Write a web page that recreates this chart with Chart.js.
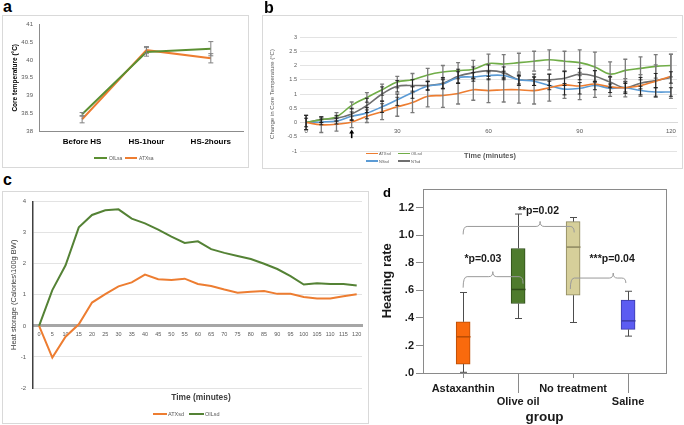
<!DOCTYPE html>
<html><head><meta charset="utf-8">
<script src="https://cdn.jsdelivr.net/npm/chart.js@4.4.1/dist/chart.umd.min.js"></script>
<style>
body{margin:0;width:684px;height:425px;background:#fff;position:relative;overflow:hidden;font-family:"Liberation Sans",Arial,sans-serif;}
.panel{position:absolute;border:1px solid #d9d9d9;box-sizing:border-box;background:#fff}
canvas{position:absolute}
.lbl{position:absolute;font-weight:bold;color:#000;line-height:1}
.t{position:absolute;white-space:nowrap;text-align:center}
.ln{position:absolute;height:2px}
</style></head>
<body>
<div class="panel" style="left:2px;top:15px;width:247px;height:153px"></div>
<div class="panel" style="left:262px;top:15px;width:421px;height:154px"></div>
<div class="panel" style="left:2px;top:191px;width:367px;height:233px"></div>

<canvas id="ca" width="246" height="153" style="left:2px;top:15px"></canvas>
<canvas id="cb" width="420" height="153" style="left:262px;top:15px"></canvas>
<canvas id="cc" width="367" height="233" style="left:2px;top:191px"></canvas>
<canvas id="cd" width="312" height="245" style="left:372px;top:180px"></canvas>

<div class="lbl" style="left:3px;top:-1px;font-size:16px">a</div>
<div class="lbl" style="left:264px;top:0px;font-size:16px">b</div>
<div class="lbl" style="left:3px;top:172px;font-size:16px">c</div>
<div class="lbl" style="left:383px;top:186px;font-size:13px">d</div>

<!-- legend a -->
<div class="ln" style="left:94px;top:157px;width:13px;background:#5b8f32"></div>
<div class="t" style="left:109px;top:155px;font-size:5px;line-height:6px;color:#595959">OILsa</div>
<div class="ln" style="left:125px;top:157px;width:12px;background:#ed7d31"></div>
<div class="t" style="left:139px;top:155px;font-size:5px;line-height:6px;color:#595959">ATXsa</div>

<!-- legend b -->
<div class="ln" style="left:366px;top:152.5px;width:12px;height:1.5px;background:#ed7d31"></div>
<div class="t" style="left:379px;top:151px;font-size:4px;line-height:5px;color:#595959">ATXsd</div>
<div class="ln" style="left:398px;top:152.5px;width:12px;height:1.5px;background:#70ad47"></div>
<div class="t" style="left:411px;top:151px;font-size:4px;line-height:5px;color:#595959">OILsd</div>
<div class="ln" style="left:366px;top:160px;width:12px;height:1.5px;background:#5b9bd5"></div>
<div class="t" style="left:379px;top:158.5px;font-size:4px;line-height:5px;color:#595959">NSsd</div>
<div class="ln" style="left:398px;top:160px;width:12px;height:1.5px;background:#6f6f6f"></div>
<div class="t" style="left:411px;top:158.5px;font-size:4px;line-height:5px;color:#595959">NTsd</div>
<div class="t" style="left:440px;top:151px;width:100px;font-size:7.3px;line-height:9px;font-weight:bold;color:#595959">Time (minutes)</div>

<!-- legend c -->
<div class="ln" style="left:153px;top:413px;width:14px;background:#ed7d31"></div>
<div class="t" style="left:168px;top:411px;font-size:5.5px;line-height:7px;color:#595959">ATXsd</div>
<div class="ln" style="left:189px;top:413px;width:15px;background:#548235"></div>
<div class="t" style="left:205px;top:411px;font-size:5.5px;line-height:7px;color:#595959">OILsd</div>
<div class="t" style="left:151px;top:392px;width:100px;font-size:8.4px;line-height:11px;font-weight:bold;color:#404040">Time (minutes)</div>

<script>
// ---------- Panel a data ----------
const aCategories = ['Before HS', 'HS-1hour', 'HS-2hours'];
const aOIL = [38.47, 40.23, 40.32];
const aATX = [38.33, 40.28, 40.05];
const aOILerr = [0.05, 0.12, 0.20];
const aATXerr = [0.10, 0.10, 0.13];
const aYTicks = [38, 38.5, 39, 39.5, 40, 40.5, 41];

// ---------- Panel b data ----------
const bMinutes = [0,5,10,15,20,25,30,35,40,45,50,55,60,65,70,75,80,85,90,95,100,105,110,115,120];
const bATX = [0,-0.08,-0.06,0.02,0.22,0.38,0.55,0.70,0.92,0.95,1.02,1.15,1.12,1.15,1.15,1.12,1.22,1.32,1.28,1.35,1.25,1.22,1.30,1.45,1.62];
const bOIL = [0,0.10,0.20,0.60,0.88,1.15,1.42,1.50,1.67,1.77,1.82,1.87,2.07,2.05,2.10,2.15,2.20,2.15,2.10,1.95,1.70,1.83,1.90,1.97,2.00];
const bNS  = [0,0.02,0.05,0.22,0.33,0.55,0.80,1.05,1.28,1.35,1.58,1.60,1.65,1.65,1.50,1.45,1.30,1.17,1.20,1.30,1.20,1.22,1.12,1.07,1.07];
const bNT  = [0,0.10,0.15,0.30,0.60,1.00,1.27,1.30,1.30,1.38,1.62,1.75,1.82,1.75,1.50,1.50,1.50,1.55,1.70,1.62,1.42,1.22,1.38,1.47,1.58];
const bATXerr = [0.25,0.27,0.24,0.20,0.22,0.28,0.33,0.35,0.37,0.42,0.37,0.37,0.42,0.43,0.47,0.47,0.47,0.47,0.48,0.47,0.33,0.32,0.38,0.57,0.77];
const bOILerr = [0.25,0.10,0.15,0.12,0.17,0.20,0.20,0.22,0.23,0.23,0.28,0.31,0.33,0.33,0.33,0.35,0.35,0.35,0.45,0.52,0.43,0.39,0.40,0.41,0.40];
const bNSerr  = [0.15,0.10,0.10,0.15,0.20,0.20,0.20,0.20,0.15,0.15,0.20,0.15,0.15,0.15,0.15,0.15,0.15,0.20,0.20,0.15,0.15,0.15,0.15,0.15,0.15];
const bNTerr  = [0.25,0.10,0.10,0.20,0.25,0.25,0.20,0.20,0.15,0.20,0.25,0.20,0.20,0.20,0.20,0.20,0.20,0.25,0.20,0.20,0.20,0.20,0.20,0.25,0.20];
const bXTicks = [0, 30, 60, 90, 120];
const bYTicks = [-1, -0.5, 0, 0.5, 1, 1.5, 2, 2.5, 3];

// ---------- Panel c data ----------
const cMinutes = [0,5,10,15,20,25,30,35,40,45,50,55,60,65,70,75,80,85,90,95,100,105,110,115,120];
const cATX = [0,-1.02,-0.35,0.05,0.75,1.02,1.27,1.40,1.65,1.50,1.48,1.52,1.35,1.28,1.17,1.07,1.10,1.12,1.03,1.03,0.93,0.88,0.88,0.95,1.02];
const cOIL = [0,1.15,1.95,3.17,3.57,3.72,3.75,3.45,3.30,3.10,2.87,2.67,2.72,2.47,2.35,2.25,2.15,2.00,1.83,1.60,1.33,1.37,1.35,1.35,1.30];
const cYTicks = [-2, -1, 0, 1, 2, 3, 4];

// ---------- Panel d data ----------
const dGroups = ['Astaxanthin', 'Olive oil', 'No treatment', 'Saline'];
const dMin    = [0.005, 0.396, 0.367, 0.268];
const dQ1     = [0.065, 0.505, 0.565, 0.317];
const dMedian = [0.263, 0.607, 0.915, 0.379];
const dQ3     = [0.372, 0.905, 1.100, 0.529];
const dMax    = [0.585, 1.155, 1.130, 0.594];
const dYTicks = [0, 0.2, 0.4, 0.6, 0.8, 1.0, 1.2];
const dPLabels = ['*p=0.03', '**p=0.02', '***p=0.04'];

Chart.defaults.font.family = "'Liberation Sans', Arial, sans-serif";
Chart.defaults.animation = false;
Chart.defaults.responsive = false;
Chart.defaults.devicePixelRatio = 1;
Chart.defaults.plugins.legend.display = false;
Chart.defaults.plugins.tooltip.enabled = false;
Chart.defaults.elements.point.radius = 0;

const fixTicks = arr => s => { s.ticks = arr.map(v => ({ value: v })); };
const pts = (xs, ys) => ys.map((v, i) => ({ x: xs[i], y: v }));
const idx = arr => arr.map((_, i) => i);

const errPlugin = {
  id: 'errbars',
  afterDatasetsDraw(chart) {
    const ys = chart.scales.y, ctx = chart.ctx;
    chart.data.datasets.forEach((ds, i) => {
      if (!ds.errs) return;
      const meta = chart.getDatasetMeta(i);
      ctx.save();
      ctx.strokeStyle = ds.errColor; ctx.lineWidth = ds.errWidth;
      meta.data.forEach((pt, j) => {
        const v = ds.data[j].y, e = ds.errs[j];
        const y1 = ys.getPixelForValue(v + e), y2 = ys.getPixelForValue(v - e);
        const x = pt.x, c = ds.errCap;
        ctx.beginPath();
        ctx.moveTo(x, y1); ctx.lineTo(x, y2);
        ctx.moveTo(x - c, y1); ctx.lineTo(x + c, y1);
        ctx.moveTo(x - c, y2); ctx.lineTo(x + c, y2);
        ctx.stroke();
      });
      ctx.restore();
    });
  }
};

// ---------- Panel a ----------
new Chart(document.getElementById('ca'), {
  type: 'line',
  data: { datasets: [
    { label: 'OILsa', data: pts(idx(aCategories), aOIL), borderColor: '#5b8f32', borderWidth: 2,
      errs: aOILerr, errColor: '#808080', errWidth: 1, errCap: 2.5 },
    { label: 'ATXsa', data: pts(idx(aCategories), aATX), borderColor: '#ed7d31', borderWidth: 2,
      errs: aATXerr, errColor: '#808080', errWidth: 1, errCap: 2.5 }
  ]},
  options: {
    layout: { padding: { top: 8, right: 5, left: 0, bottom: 0 } },
    scales: {
      x: { type: 'linear', min: -0.67, max: 2.5, afterBuildTicks: fixTicks(idx(aCategories)),
        ticks: { callback: v => aCategories[v], font: { size: 8, weight: 'bold' }, color: '#000', padding: 6, maxRotation: 0 },
        grid: { display: false, drawTicks: false }, border: { color: '#8c8c8c' },
        afterFit: s => { s.height = 37; } },
      y: { min: 38, max: 41, afterBuildTicks: fixTicks(aYTicks),
        ticks: { font: { size: 6 }, color: '#595959', padding: 6, callback: v => String(v) },
        grid: { display: false, drawTicks: false }, border: { color: '#8c8c8c' },
        title: { display: true, text: 'Core temperature (°C)', font: { size: 6.5, weight: 'bold' }, color: '#000', padding: { top: 9, bottom: 0 } },
        afterFit: s => { s.width = 37; } }
    }
  },
  plugins: [errPlugin]
});

// ---------- Panel b ----------
const arrowPlugin = {
  id: 'arrow',
  afterDatasetsDraw(chart) {
    const o = chart.options.plugins.arrow; if (!o) return;
    const ctx = chart.ctx, x = chart.scales.x.getPixelForValue(o.x);
    const y1 = chart.scales.y.getPixelForValue(o.y1), y2 = chart.scales.y.getPixelForValue(o.y2);
    ctx.save(); ctx.strokeStyle = '#000'; ctx.fillStyle = '#000'; ctx.lineWidth = 1.6;
    ctx.beginPath(); ctx.moveTo(x, y1); ctx.lineTo(x, y2 + 2); ctx.stroke();
    ctx.beginPath(); ctx.moveTo(x, y2 - 1); ctx.lineTo(x - 2.5, y2 + 3); ctx.lineTo(x + 2.5, y2 + 3); ctx.closePath(); ctx.fill();
    ctx.restore();
  }
};
const bLine = (label, ys, color, errs, errColor, errWidth) => ({
  label, data: pts(bMinutes, ys), borderColor: color, borderWidth: 1.6, tension: 0.35,
  errs, errColor, errWidth, errCap: 2
});
new Chart(document.getElementById('cb'), {
  type: 'line',
  data: { datasets: [
    bLine('ATXsd', bATX, '#ed7d31', bATXerr, '#7a7a7a', 1.3),
    bLine('OILsd', bOIL, '#70ad47', bOILerr, '#7a7a7a', 1.3),
    bLine('NSsd', bNS, '#5b9bd5', bNSerr, '#1a1a1a', 0.9),
    bLine('NTsd', bNT, '#6f6f6f', bNTerr, '#1a1a1a', 0.9)
  ]},
  options: {
    layout: { padding: { top: 22, right: 5, left: 0, bottom: 17 } },
    plugins: { arrow: { x: 15, y1: -0.55, y2: -0.28 } },
    scales: {
      x: { type: 'linear', min: -2, max: 122, position: { y: 0 }, afterBuildTicks: fixTicks(bXTicks),
        ticks: { font: { size: 6 }, color: '#595959', padding: 5, maxRotation: 0, callback: v => String(v) },
        grid: { display: false, drawTicks: false }, border: { color: '#d9d9d9' } },
      y: { min: -1, max: 3, afterBuildTicks: fixTicks(bYTicks),
        ticks: { font: { size: 5.5 }, color: '#595959', padding: 3, callback: v => String(v) },
        grid: { color: '#e3e3e3', drawTicks: false }, border: { display: false },
        title: { display: true, text: 'Change in Core Temperature (°C)', font: { size: 6 }, color: '#595959', padding: { top: 6.5, bottom: 0 } },
        afterFit: s => { s.width = 38; } }
    }
  },
  plugins: [errPlugin, arrowPlugin]
});

// ---------- Panel c ----------
new Chart(document.getElementById('cc'), {
  type: 'line',
  data: { datasets: [
    { label: 'ATXsd', data: pts(cMinutes, cATX), borderColor: '#ed7d31', borderWidth: 2, tension: 0 },
    { label: 'OILsd', data: pts(cMinutes, cOIL), borderColor: '#548235', borderWidth: 2, tension: 0 }
  ]},
  options: {
    layout: { padding: { top: 7, right: 7, left: 0, bottom: 36 } },
    scales: {
      x: { type: 'linear', min: -2.3, max: 122, position: { y: 0 }, afterBuildTicks: fixTicks(cMinutes),
        ticks: { font: { size: 5.5 }, color: '#595959', padding: 5, maxRotation: 0, autoSkip: false, callback: v => String(v) },
        grid: { display: false, drawTicks: false }, border: { color: '#a6a6a6', width: 3 } },
      y: { min: -2, max: 4, afterBuildTicks: fixTicks(cYTicks),
        ticks: { font: { size: 6 }, color: '#595959', padding: 7, callback: v => String(v) },
        grid: { color: '#e3e3e3', drawTicks: false }, border: { color: '#404040', width: 1.5 },
        title: { display: true, text: 'Heat storage (Calories\\100g BW)', font: { size: 7.5 }, color: '#404040', padding: { top: 7.5, bottom: 0 } },
        afterFit: s => { s.width = 31; } }
    }
  }
});

// ---------- Panel d ----------
const boxPlugin = {
  id: 'boxparts',
  afterDatasetsDraw(chart) {
    const ctx = chart.ctx, xs = chart.scales.x, ys = chart.scales.y, a = chart.chartArea;
    const ds = chart.data.datasets[0];
    ctx.save();
    dGroups.forEach((g, i) => {
      const x = Math.round(xs.getPixelForValue(i)) + 0.5;
      ctx.strokeStyle = '#4d4d4d'; ctx.lineWidth = 1;
      ctx.beginPath();
      ctx.moveTo(x, ys.getPixelForValue(dQ3[i])); ctx.lineTo(x, ys.getPixelForValue(dMax[i]));
      ctx.moveTo(x, ys.getPixelForValue(dQ1[i])); ctx.lineTo(x, ys.getPixelForValue(dMin[i]));
      ctx.moveTo(x - 3.5, ys.getPixelForValue(dMax[i])); ctx.lineTo(x + 3.5, ys.getPixelForValue(dMax[i]));
      ctx.moveTo(x - 3.5, ys.getPixelForValue(dMin[i])); ctx.lineTo(x + 3.5, ys.getPixelForValue(dMin[i]));
      ctx.stroke();
      ctx.strokeStyle = ds.borderColor[i]; ctx.lineWidth = 1.5;
      ctx.beginPath();
      ctx.moveTo(x - 7, ys.getPixelForValue(dMedian[i])); ctx.lineTo(x + 7, ys.getPixelForValue(dMedian[i]));
      ctx.stroke();
    });
    ctx.strokeStyle = '#8a8a8a'; ctx.lineWidth = 1;
    ctx.strokeRect(Math.round(a.left) + 0.5, Math.round(a.top) + 0.5, Math.round(a.right - a.left), Math.round(a.bottom - a.top));
    [1, 3].forEach(i => {
      const x = Math.round(xs.getPixelForValue(i)) + 0.5;
      ctx.beginPath(); ctx.moveTo(x, a.bottom); ctx.lineTo(x, a.bottom + 20); ctx.stroke();
    });
    const br = chart.options.plugins.brackets;
    br.forEach((b, k) => {
      const x1 = xs.getPixelForValue(b.from), x2 = xs.getPixelForValue(b.to), xm = xs.getPixelForValue(b.mid);
      const y = ys.getPixelForValue(b.level), r = 4;
      ctx.strokeStyle = '#9a9a9a'; ctx.lineWidth = 1;
      ctx.beginPath();
      ctx.moveTo(x1, y + b.dropL); ctx.quadraticCurveTo(x1, y, x1 + r, y);
      ctx.lineTo(xm - r, y); ctx.quadraticCurveTo(xm, y, xm, y - 5);
      ctx.quadraticCurveTo(xm, y, xm + r, y);
      ctx.lineTo(x2 - r, y); ctx.quadraticCurveTo(x2, y, x2, y + b.dropR);
      ctx.stroke();
      ctx.fillStyle = '#1a1a1a'; ctx.font = "bold 10.5px 'Liberation Sans', Arial, sans-serif";
      ctx.textAlign = 'center'; ctx.textBaseline = 'middle';
      ctx.fillText(dPLabels[k], xs.getPixelForValue(b.tx), ys.getPixelForValue(b.ty));
    });
    ctx.restore();
  }
};
new Chart(document.getElementById('cd'), {
  type: 'bar',
  data: { datasets: [{
    label: 'Heating rate',
    data: dGroups.map((g, i) => ({ x: i, y: [dQ1[i], dQ3[i]] })),
    backgroundColor: ['#f96a0d', '#4e7b2c', '#d6cf9a', '#5c5cf2'],
    borderColor: ['#b84c05', '#2f4d19', '#8d875f', '#3b3ba8'],
    borderWidth: 1, borderSkipped: false, barThickness: 14
  }]},
  options: {
    layout: { padding: { top: 8, right: 18, left: 0, bottom: 0 } },
    plugins: { brackets: [
      { from: 0, to: 1.09, mid: 0.54, level: 0.70, dropL: 11, dropR: 7, tx: 0.36, ty: 0.825 },
      { from: 0, to: 2.02, mid: 1.40, level: 1.065, dropL: 8, dropR: 6, tx: 1.37, ty: 1.18 },
      { from: 1.95, to: 2.96, mid: 2.73, level: 0.69, dropL: 11, dropR: 5, tx: 2.71, ty: 0.83 }
    ] },
    scales: {
      x: { type: 'linear', offset: false, min: -0.73, max: 3.69, afterBuildTicks: fixTicks(idx(dGroups)),
        ticks: { callback: v => (v % 2 ? ['', dGroups[v]] : dGroups[v]), font: { size: 11, weight: 'bold' }, color: '#1a1a1a', padding: 4, maxRotation: 0, autoSkip: false },
        grid: { display: true, offset: false, drawOnChartArea: false, drawTicks: true, tickLength: 5, color: '#8a8a8a' }, border: { display: false },
        title: { display: true, text: 'group', font: { size: 13.5, weight: 'bold' }, color: '#1a1a1a', padding: { top: 0, bottom: 0 } },
        afterFit: s => { s.height = 52; } },
      y: { min: 0, max: 1.34, afterBuildTicks: fixTicks(dYTicks),
        ticks: { callback: v => v.toFixed(1).replace(/^0/, ''), font: { size: 11, weight: 'bold' }, color: '#1a1a1a', padding: 2 },
        grid: { display: true, drawOnChartArea: false, drawTicks: true, tickLength: 7, color: '#8a8a8a' }, border: { display: false },
        title: { display: true, text: 'Heating rate', font: { size: 13, weight: 'bold' }, color: '#1a1a1a', padding: { top: 8, bottom: 0 } },
        afterFit: s => { s.width = 51; } }
    }
  },
  plugins: [boxPlugin]
});
</script>
</body></html>
